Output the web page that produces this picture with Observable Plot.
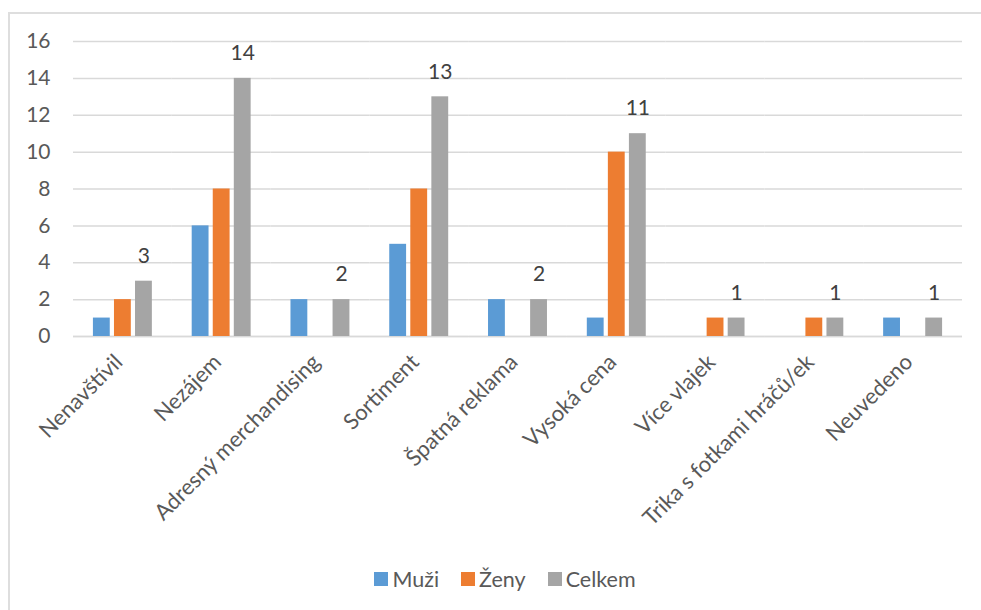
<!DOCTYPE html>
<html>
<head>
<meta charset="utf-8">
<script src="https://cdn.jsdelivr.net/npm/d3@7"></script>
<script src="https://cdn.jsdelivr.net/npm/@observablehq/plot@0.6"></script>
<style>
  html, body { margin: 0; padding: 0; background: #fff; }
  body { width: 981px; height: 610px; position: relative; overflow: hidden; font-family: Lato, "Open Sans", sans-serif; }
  #frame { position: absolute; left: 8px; top: 12px; width: 1000px; height: 700px;
           border-left: 2px solid #dedede; border-top: 2px solid #dedede; }
  #chart { position: absolute; left: 0; top: 0; }
  #legend { position: absolute; left: 0; top: 562px; width: 1010px; display: flex; justify-content: center; }
  #legend div, #legend span { font-size: 21.5px !important; color: #595959 !important; font-family: Lato, "Open Sans", sans-serif !important; }
  #legend span[class$="-swatch"] { margin-right: 22px !important; }
  #legend span[class$="-swatch"]:last-child { margin-right: 0 !important; }
  #legend span[class$="-swatch"] > svg { margin-right: 4px !important; }
</style>
</head>
<body>
<div id="frame"></div>
<div id="chart"></div>
<div id="legend"></div>
<script>
// Reasons for not buying fan merchandise, by respondent group
const categories = [
  "Nenavštívil", "Nezájem", "Adresný merchandising", "Sortiment", "Špatná reklama",
  "Vysoká cena", "Více vlajek", "Trika s fotkami hráčů/ek", "Neuvedeno"
];
const seriesNames = ["Muži", "Ženy", "Celkem"];
const muzi   = [1, 6, 2, 5, 2, 1, 0, 0, 1];
const zeny   = [2, 8, 0, 8, 0, 10, 1, 1, 0];
const celkem = [3, 14, 2, 13, 2, 11, 1, 1, 1];
const seriesColors = ["#5b9bd5", "#ed7d31", "#a5a5a5"];
const yTicks = [0, 2, 4, 6, 8, 10, 12, 14, 16];

// Long-format rows for the grouped bars; zero counts draw no bar
const valuesBySeries = [muzi, zeny, celkem];
const rows = [];
categories.forEach((cat, i) => {
  seriesNames.forEach((s, j) => {
    const v = valuesBySeries[j][i];
    if (v > 0) rows.push({cat, series: s, value: v});
  });
});
const totals = rows.filter(d => d.series === "Celkem");

const textColor = "#595959";
const fontSize = 21;

const plot = Plot.plot({
  width: 981,
  height: 555,
  marginLeft: 73,
  marginRight: 19,
  marginTop: 41,
  marginBottom: 219,
  style: {color: textColor, fontFamily: "Lato, 'Open Sans', sans-serif", background: "transparent"},
  fx: {domain: categories, padding: 0, round: false},
  x: {domain: seriesNames, paddingInner: 0.2, paddingOuter: 0.946, round: false, axis: null},
  y: {domain: [0, 16]},
  color: {domain: seriesNames, range: seriesColors},
  marks: [
    Plot.gridY(yTicks, {stroke: "#d9d9d9", strokeOpacity: 1, strokeWidth: 1.5}),
    Plot.ruleY([0], {stroke: "#d9d9d9", strokeWidth: 1.5}),
    Plot.barY(rows, {fx: "cat", x: "series", y: "value", fill: "series"}),
    Plot.text(totals, {fx: "cat", x: "series", y: "value", text: d => String(d.value),
      dy: -25, fontSize, fill: "#404040", lineAnchor: "middle"}),
    Plot.axisY(yTicks, {tickSize: 0, tickPadding: 23, fontSize, label: null, tickFormat: d => String(d)}),
    Plot.axisFx({anchor: "bottom", tickRotate: -45, tickSize: 0, tickPadding: 22, dx: -4, fontSize: 22, label: null})
  ]
});
document.getElementById("chart").appendChild(plot);

const legend = plot.legend("color", {swatchSize: 14});
document.getElementById("legend").appendChild(legend);
</script>
</body>
</html>
